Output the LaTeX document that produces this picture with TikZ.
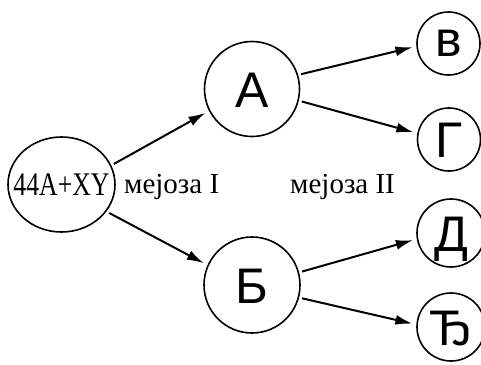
\documentclass[tikz,border=0pt]{standalone}
\usepackage{fontspec}
\setmainfont{Liberation Serif}
\newfontfamily\lettersans{Liberation Sans}
\usetikzlibrary{arrows.meta,shapes.geometric}
\begin{document}
\begin{tikzpicture}[x=1pt,y=-1pt,
  cell/.style={circle,draw,line width=1.6pt,inner sep=0pt,minimum size=#1,
    font=\lettersans\fontsize{50}{52}\selectfont,text height=36pt,text depth=0pt},
  small/.style={text height=26pt},
  zygote/.style={ellipse,draw,line width=1.6pt,inner sep=0pt,
    minimum width=107pt,minimum height=95pt},
  phase/.style={font=\fontsize{29}{31}\selectfont,anchor=base west,inner sep=0pt},
  arw/.style={line width=2pt,-{Latex[length=17pt,width=10pt]},
    shorten <=3pt,shorten >=4pt}
]
\useasboundingbox (0,0) rectangle (481,364);

% parent cell
\node[zygote] (z) at (61.5,184.5) {};
\node[font=\fontsize{33}{34}\selectfont,inner sep=0pt] (zt) at (z)
  {\scalebox{0.78}[1]{44A+XY}};

% first meiotic division
\node[cell=95pt] (A) at (252,89) {А};
\node[cell=96pt] (B) at (252,285) {Б};

% second meiotic division
\node[cell=63pt,small] (v) at (448.5,43.5) {в};
\node[cell=63pt] (g) at (449,139.5) {Г};
\node[cell=68pt] (d) at (451,233) {Д};
\node[cell=68pt] (dj) at (451,327) {Ђ};

% phase labels
\node[phase] (m1) at (124,193) {мејоза I};
\node[phase] (m2) at (290,193) {мејоза II};

% arrows
\draw[arw] (z.21) -- (A.207);
\draw[arw] (z.-31) -- (B.156);
\draw[arw] (A.17) -- (v.185);
\draw[arw] (A.-14) -- (g.169);
\draw[arw] (B.15) -- (d.190);
\draw[arw] (B.-15) -- (dj.176);
\end{tikzpicture}
\end{document}
